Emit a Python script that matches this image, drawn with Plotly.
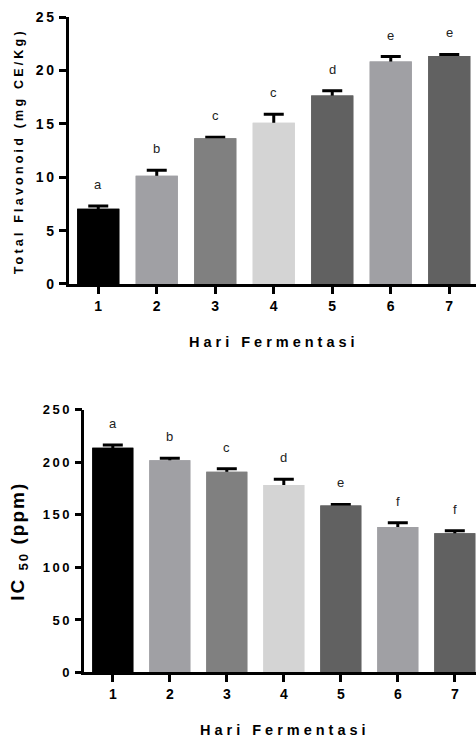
import plotly.graph_objects as go

days = [1, 2, 3, 4, 5, 6, 7]
day_labels = ["1", "2", "3", "4", "5", "6", "7"]
bar_colors = ["#000000", "#a0a0a4", "#808080", "#d4d4d4", "#616161", "#a0a0a4", "#616161"]

flav_mean = [7.05, 10.15, 13.65, 15.1, 17.65, 20.85, 21.35]
flav_err = [0.25, 0.5, 0.1, 0.8, 0.45, 0.45, 0.15]
flav_letters = ["a", "b", "c", "c", "d", "e", "e"]
flav_ticks = [0, 5, 10, 15, 20, 25]

ic_mean = [214, 202, 191, 178.5, 159, 138.5, 132.5]
ic_err = [2.5, 2, 3, 5.5, 1, 4, 2.5]
ic_letters = ["a", "b", "c", "d", "e", "f", "f"]
ic_ticks = [0, 50, 100, 150, 200, 250]

W, H = 476, 748
FONT = "Arial, Liberation Sans, sans-serif"

def sp(t, ls):
    return f"<span style='letter-spacing:{ls}px'>{t}</span>"

fig = go.Figure()

panels = [
    dict(mean=flav_mean, err=flav_err, letters=flav_letters, ticks=flav_ticks,
         xa="x", ya="y", x0=69, y0=282, ytop=9.33, pitch=58.5, ymax=25, yfs=14),
    dict(mean=ic_mean, err=ic_err, letters=ic_letters, ticks=ic_ticks,
         xa="x2", ya="y2", x0=84.3, y0=679, ytop=410.7, pitch=57, ymax=250, yfs=13),
]

for i, p in enumerate(panels):
    # bars with symmetric error bars, then identical bars on top hide the lower half
    fig.add_trace(go.Bar(x=days, y=p["mean"], marker=dict(color=bar_colors, line=dict(width=0)),
                         width=0.72, xaxis=p["xa"], yaxis=p["ya"], showlegend=False,
                         error_y=dict(type="data", array=p["err"], symmetric=True,
                                      color="black", thickness=3, width=10)))
    fig.add_trace(go.Bar(x=days, y=p["mean"], marker=dict(color=bar_colors, line=dict(width=0)),
                         width=0.72, xaxis=p["xa"], yaxis=p["ya"], showlegend=False))
    for d, m, e, l in zip(days, p["mean"], p["err"], p["letters"]):
        fig.add_annotation(x=d, y=m + e, xref=p["xa"], yref=p["ya"], text=l, showarrow=False,
                           xanchor="center", yanchor="bottom", yshift=12,
                           font=dict(family=FONT, size=13, color="#222222"))

axis_common = dict(showline=True, linecolor="black", linewidth=2.5, ticks="outside",
                   tickcolor="black", tickwidth=2.5, ticklen=7, showgrid=False, zeroline=False)

layout = {}
for i, p in enumerate(panels):
    sfx = "" if i == 0 else "2"
    xr = 0.5 + (W - p["x0"]) / p["pitch"]
    layout["xaxis" + sfx] = dict(axis_common, domain=[p["x0"] / W, 1], range=[0.5, xr],
                                 anchor="y" + sfx, tickvals=days,
                                 tickfont=dict(family=FONT, size=14, color="black", weight="bold"),
                                 ticktext=day_labels)
    layout["yaxis" + sfx] = dict(axis_common, domain=[(H - p["y0"]) / H, (H - p["ytop"]) / H],
                                 range=[0, p["ymax"]], anchor="x" + sfx, tickvals=p["ticks"],
                                 tickfont=dict(family=FONT, size=p["yfs"], color="black", weight="bold"),
                                 ticktext=[sp(str(t), 2.5) for t in p["ticks"]])

fig.update_layout(**layout)
fig.update_layout(width=W, height=H, margin=dict(l=0, r=0, t=0, b=0),
                  paper_bgcolor="white", plot_bgcolor="white", barmode="overlay")

# axis titles
fig.add_annotation(xref="paper", yref="paper", x=19 / W, y=(H - 146.5) / H, textangle=-90,
                   xanchor="center", yanchor="middle",
                   text=sp("Total Flavonoid (mg CE/Kg)", 3.2), showarrow=False,
                   font=dict(family=FONT, size=12.5, color="black", weight="bold"))
fig.add_annotation(xref="paper", yref="paper", x=273.5 / W, y=(H - 341) / H,
                   xanchor="center", yanchor="middle",
                   text=sp("Hari Fermentasi", 4), showarrow=False,
                   font=dict(family=FONT, size=14.5, color="black", weight="bold"))
fig.add_annotation(xref="paper", yref="paper", x=19.5 / W, y=(H - 545) / H, textangle=-90,
                   xanchor="center", yanchor="middle",
                   text=sp("IC <sub>50</sub> (ppm)", 2), showarrow=False,
                   font=dict(family=FONT, size=19, color="black", weight="bold"))
fig.add_annotation(xref="paper", yref="paper", x=285 / W, y=(H - 738) / H,
                   xanchor="center", yanchor="middle",
                   text=sp("Hari Fermentasi", 4), showarrow=False,
                   font=dict(family=FONT, size=14.5, color="black", weight="bold"))

fig.write_html("out.html")
